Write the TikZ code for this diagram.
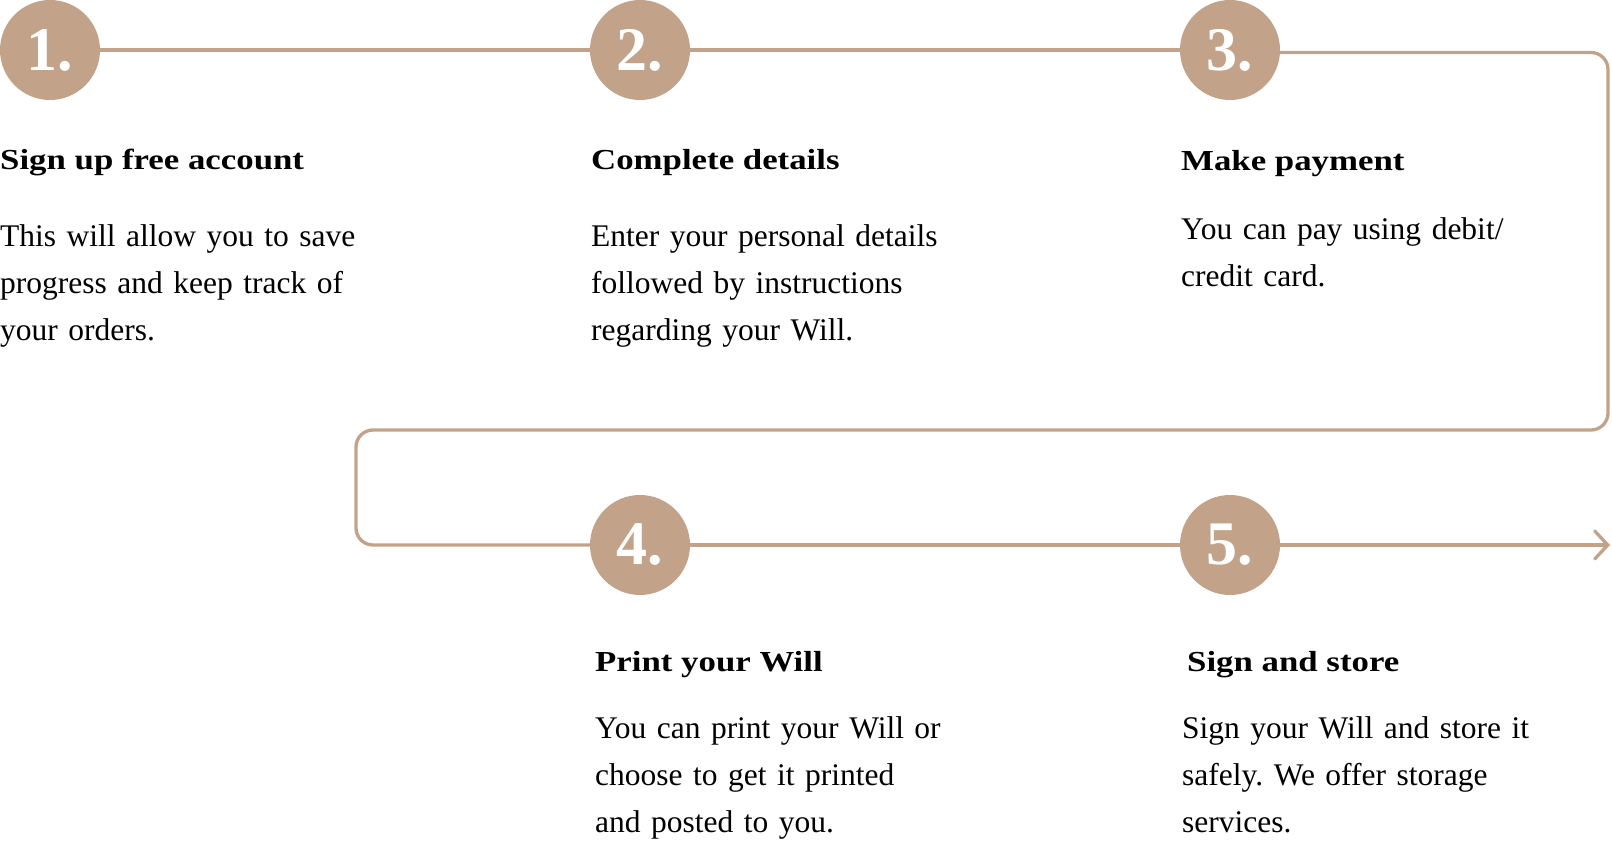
\documentclass[tikz,border=0pt]{standalone}
\usepackage{fontspec}
\setmainfont{Liberation Serif}
\newfontfamily\headfont{Liberation Serif}[FakeStretch=1.2]
\usetikzlibrary{arrows.meta}
\definecolor{willtan}{HTML}{C2A389}
\tikzset{
	stepdot/.style={circle, fill=willtan, minimum size=100pt, inner sep=0pt, text=white, font=\fontsize{62}{62}\selectfont\bfseries},
	flow/.style={draw=willtan, line width=3.3pt},
	heading/.style={anchor=base west, inner sep=0pt, font=\headfont\fontsize{29}{29}\selectfont\bfseries},
	blurb/.style={anchor=base west, inner sep=0pt, text width=400pt, align=left, font=\frenchspacing\fontsize{31.5}{47}\selectfont}
}
\begin{document}
\begin{tikzpicture}[x=1pt, y=-1pt]
			%%%%% START %%%%%
			
			\useasboundingbox (0, 0) rectangle (1612, 842);
			
			\node[stepdot] (step1) at (50, 50) {1.};
			\node[stepdot] (step2) at (640, 50) {2.};
			\node[stepdot] (step3) at (1230, 50) {3.};
			\node[stepdot] (step4) at (640, 545) {4.};
			\node[stepdot] (step5) at (1230, 545) {5.};
			
			\coordinate (bendR) at (1608, 430);
			\coordinate (bendL) at (356, 545);
			\coordinate (finish) at (1610, 545);
			
			\draw[flow] (step1) -- (step2);
			\draw[flow] (step2) -- (step3);
			\draw[flow, rounded corners=17pt] (step3.east) ++(0, 2.5) -| (bendR) -| (bendL) -- (step4.west);
			\draw[flow] (step4) -- (step5);
			\draw[flow, -{Straight Barb[length=13pt, width=28pt, line cap=round]}] (step5.east) -- (finish);
			
			\node[heading] (head1) at (0, 170) {Sign up free account};
			\node[blurb] (text1) at (0, 247) {This will allow you to save\\progress and keep track of\\your orders.};
			
			\node[heading] (head2) at (591, 170) {Complete details};
			\node[blurb] (text2) at (591, 247) {Enter your personal details\\followed by instructions\\regarding your Will.};
			
			\node[heading] (head3) at (1181, 171) {Make payment};
			\node[blurb] (text3) at (1181, 240) {You can pay using debit/\\credit card.};
			
			\node[heading] (head4) at (595, 671) {Print your Will};
			\node[blurb] (text4) at (595, 738) {You can print your Will or\\choose to get it printed\\and posted to you.};
			
			\node[heading] (head5) at (1187, 671) {Sign and store};
			\node[blurb] (text5) at (1182, 738) {Sign your Will and store it\\safely. We offer storage\\services.};
			
			%%%%% END %%%%%
\end{tikzpicture}
\end{document}
